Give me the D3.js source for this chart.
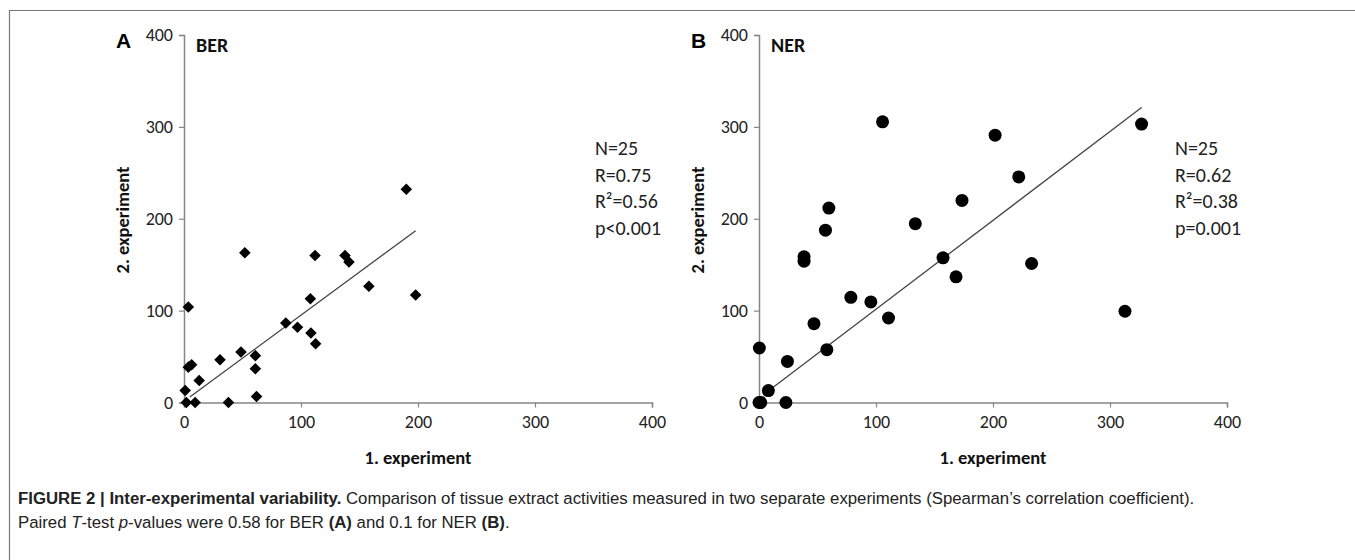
<!DOCTYPE html>
<html><head><meta charset="utf-8">
<script src="https://cdn.jsdelivr.net/npm/d3@7"></script>
<style>
body{margin:0;background:#fff;}
svg text{font-family:Carlito,Lato,"Open Sans",sans-serif;}
.cap{font-family:"Liberation Sans",Arial,sans-serif !important;}
</style></head>
<body><svg id="c" width="1355" height="560"></svg>
<script>
// ---- data ----
const axisTicks = [0, 100, 200, 300, 400];
const berX = [52, 112, 137.6, 141, 158, 198, 3.7, 108, 87, 97, 108.5, 112.5, 48.7, 61, 30.8, 6.5, 3.7, 61, 13, 1, 62, 2, 9.5, 38, 190];
const berY = [163, 160, 160, 153, 126.5, 117, 104, 113, 86.5, 82, 75.6, 64, 55, 51, 46.5, 41, 38.5, 36.7, 24, 13, 6.5, 0, 0, 0, 232];
const nerX = [105.6, 201.8, 59.7, 173.5, 133.6, 56.8, 38.5, 38.5, 157.3, 168.4, 78.5, 95.6, 110.7, 47, 0.3, 58, 24.3, 8, 0, 1.5, 23, 222, 327, 233, 312.8];
const nerY = [305.5, 291, 211.6, 220, 194.6, 187.6, 158.6, 153.8, 157.5, 136.8, 114.5, 109.5, 92, 85.8, 59.3, 57.5, 44.7, 13, 0, 0, 0, 245.5, 303, 151.3, 99.3];
const berFit = {slope: 0.938, intercept: 1.3, x0: 5, x1: 198};
const nerFit = {slope: 0.967, intercept: 4.8, x0: 3.7, x1: 327};
const berStats = ["N=25", "R=0.75", "R²=0.56", "p<0.001"];
const nerStats = ["N=25", "R=0.62", "R²=0.38", "p=0.001"];

const svg = d3.select("#c");
const axisColor = "#868686";

// frame
svg.append("path").attr("d","M9.5,560 L9.5,10.5 L1355,10.5").attr("fill","none").attr("stroke","#777").attr("stroke-width",1.2);

function panel(o){
  const x = d3.scaleLinear().domain([0,400]).range([o.left, o.left+468]);
  const y = d3.scaleLinear().domain([0,400]).range([402.5, 35]);
  const g = svg.append("g");
  const ya = g.append("g").attr("transform",`translate(${o.left},0)`)
    .call(d3.axisLeft(y).tickValues(axisTicks).tickSize(5).tickPadding(6).tickFormat(d3.format("d")));
  const xa = g.append("g").attr("transform",`translate(0,402.5)`)
    .call(d3.axisBottom(x).tickValues(axisTicks).tickSize(5).tickPadding(8).tickFormat(d3.format("d")));
  [ya,xa].forEach(a=>{
    a.select(".domain").attr("stroke",axisColor).attr("stroke-width",1.5);
    a.selectAll(".tick line").attr("stroke",axisColor).attr("stroke-width",1.2);
    a.selectAll(".tick text").attr("fill","#222").style("font-size","18px");
  });
  ya.selectAll(".tick text").attr("dy","0.32em");
  g.append("line")
    .attr("x1",x(o.fit.x0)).attr("y1",y(o.fit.slope*o.fit.x0+o.fit.intercept))
    .attr("x2",x(o.fit.x1)).attr("y2",y(o.fit.slope*o.fit.x1+o.fit.intercept))
    .attr("stroke","#444").attr("stroke-width",1.3);
  const pts = o.xs.map((v,i)=>[v,o.ys[i]]);
  if(o.shape==="diamond"){
    g.selectAll("path.pt").data(pts).join("path").attr("class","pt")
      .attr("d",d3.symbol(d3.symbolDiamond2,85)())
      .attr("transform",d=>`translate(${x(d[0])},${y(d[1])})`).attr("fill","#000");
  } else {
    g.selectAll("circle.pt").data(pts).join("circle").attr("class","pt")
      .attr("cx",d=>x(d[0])).attr("cy",d=>y(d[1])).attr("r",6.5).attr("fill","#000");
  }
  g.append("text").attr("x",o.left-68).attr("y",48).text(o.letter)
    .style("font-family","'Liberation Sans',Arial,sans-serif").style("font-weight","bold").style("font-size","21px");
  g.append("text").attr("x",o.left+12).attr("y",52).text(o.name)
    .style("font-weight","bold").style("font-size","20px").attr("fill","#111");
  g.append("text").attr("transform",`translate(${o.left-55},${220}) rotate(-90)`).attr("text-anchor","middle")
    .text("2. experiment").style("font-weight","bold").style("font-size","18.5px").attr("fill","#111");
  g.append("text").attr("x",x(200)).attr("y",464).attr("text-anchor","middle")
    .text("1. experiment").style("font-weight","bold").style("font-size","18.5px").attr("fill","#111");
  const st = g.append("text").attr("x",o.statX).attr("y",155).style("font-size","20px").attr("fill","#222");
  o.stats.forEach((s,i)=>st.append("tspan").attr("x",o.statX).attr("dy",i?26.5:0).text(s));
}

panel({left:184, xs:berX, ys:berY, fit:berFit, shape:"diamond", letter:"A", name:"BER", stats:berStats, statX:595});
panel({left:759, xs:nerX, ys:nerY, fit:nerFit, shape:"circle", letter:"B", name:"NER", stats:nerStats, statX:1175});

// caption
const cap1 = svg.append("text").attr("class","cap").attr("x",18).attr("y",504).style("font-size","16.8px").attr("fill","#222");
cap1.append("tspan").style("font-weight","bold").text("FIGURE 2 | Inter-experimental variability.");
cap1.append("tspan").text(" Comparison of tissue extract activities measured in two separate experiments (Spearman’s correlation coefficient).");
const cap2 = svg.append("text").attr("class","cap").attr("x",18).attr("y",528).style("font-size","16.8px").attr("fill","#222");
cap2.append("tspan").text("Paired ");
cap2.append("tspan").style("font-style","italic").text("T");
cap2.append("tspan").text("-test ");
cap2.append("tspan").style("font-style","italic").text("p");
cap2.append("tspan").text("-values were 0.58 for BER ");
cap2.append("tspan").style("font-weight","bold").text("(A)");
cap2.append("tspan").text(" and 0.1 for NER ");
cap2.append("tspan").style("font-weight","bold").text("(B)");
cap2.append("tspan").text(".");
</script></body></html>
